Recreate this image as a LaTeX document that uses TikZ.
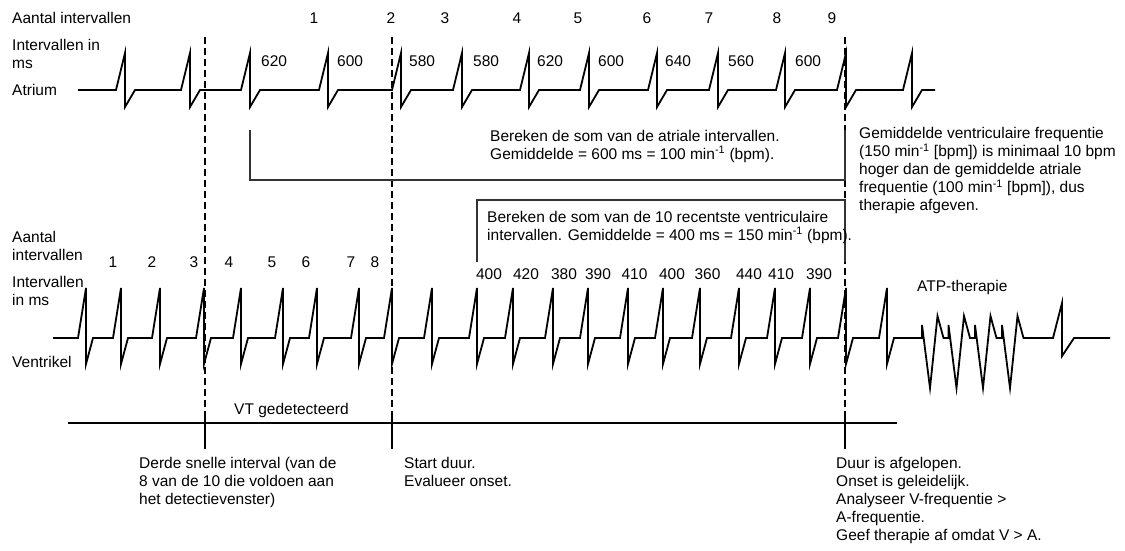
\documentclass[tikz,border=0pt]{standalone}
\usepackage{fontspec}
\setmainfont{Liberation Sans}
\newcommand{\mylines}[1]{\begin{tabular}[t]{@{}l@{}}#1\end{tabular}}
\begin{document}
\begin{tikzpicture}[x=1pt,y=-1pt,
  txt/.style={font=\fontsize{15.5}{18}\selectfont, inner sep=0pt, anchor=base west},
  num/.style={txt, anchor=base},
  wave/.style={line width=1.8pt, line join=miter},
  guide/.style={line width=1.2pt, dash pattern=on 7pt off 4pt},
  bracket/.style={line width=1.5pt, black!80},
  tickline/.style={line width=1.3pt}]
\fill[white] (0,0) rectangle (1125,550);
\useasboundingbox (0,0) rectangle (1125,550);

% ---------- left labels ----------
\node[txt] (lblA1) at (12,23.5) {Aantal intervallen};
\node[txt] (lblA2) at (12,50.5) {\mylines{Intervallen in\\ms}};
\node[txt] (lblA3) at (12,95.5) {Atrium};
\node[txt] (lblV1) at (12,242) {\mylines{Aantal\\intervallen}};
\node[txt] (lblV2) at (12,287) {\mylines{Intervallen\\in ms}};
\node[txt] (lblV3) at (12,367) {Ventrikel};

% ---------- atrial count numbers ----------
\foreach \x [count=\i] in {314,391,445,517,578,647,709,777,832}
  \node[num] (acnt\i) at (\x,23.5) {\i};

% ---------- atrial interval labels ----------
\foreach \x/\v [count=\i] in {261/620,337/600,409/580,473/580,537/620,598/600,665/640,728/560,795/600}
  \node[txt] (aint\i) at (\x,66.5) {\v};

% ---------- atrium strip ----------
\draw[wave] (78,90)
  \foreach \s in {125,190,250,328,401,462,529,589,657,718,785,846,912}
    { -- ({\s-9},90) -- (\s,53) -- (\s,107) -- ({\s+10},90) }
  -- (935,90);

% ---------- ventricular count numbers ----------
\foreach \x [count=\i] in {113,152,194,229,272,306,351,375}
  \node[num] (vcnt\i) at (\x,267) {\i};

% ---------- ventricular interval labels ----------
\foreach \x/\v [count=\i] in {489/400,526/420,564/380,598/390,634.5/410,672/400,707.5/360,749/440,781/410,819/390}
  \node[num] (vint\i) at (\x,279) {\v};

% ---------- ventricle strip ----------
\draw[wave] (53,338)
  \foreach \s in {86,121,160,204,241,283,317,359,392,432,477,513,553,588,628,663,700,739,775,810,846,887}
    { -- ({\s-8},338) -- (\s,288) -- (\s,364) -- ({\s+7},338) }
  -- (922,338)
  \foreach \b in {922,948.5,975,1002}
    { -- (\b,338) -- (\b,325) -- ({\b+8},388) -- ({\b+15.5},316) -- ({\b+21.5},338) }
  -- (1053,338) -- (1062,303) -- (1062,356) -- (1074,338) -- (1110,338);
\node[txt] (atp) at (917,291.5) {ATP-therapie};

% ---------- dashed guides ----------
\foreach \x [count=\i] in {205,392,845}{
  \coordinate (gt\i) at (\x,37);
  \coordinate (gb\i) at (\x,410);
  \coordinate (kt\i) at (\x,411);
  \coordinate (kb\i) at (\x,449);
  \draw[guide] (gt\i) -- (gb\i);
  \draw[tickline] (kt\i) -- (kb\i);
}

% ---------- atrial bracket ----------
\coordinate (ab1) at (250,130);
\coordinate (ab2) at (250,180);
\coordinate (ab3) at (845,180);
\coordinate (ab4) at (845,130);
\draw[bracket] (ab1) -- (ab2) -- (ab3) -- (ab4);
\node[txt] (atxt) at (490,141) {\mylines{Bereken de som van de atriale intervallen.\\Gemiddelde = 600 ms = 100 min\textsuperscript{-1} (bpm).}};

% ---------- ventricular bracket ----------
\coordinate (vb1) at (477,262);
\coordinate (vb2) at (477,200);
\coordinate (vb3) at (845,200);
\coordinate (vb4) at (845,262);
\draw[bracket] (vb1) -- (vb2) -- (vb3) -- (vb4);
\node[txt] (vtxt) at (487,222) {\mylines{Bereken de som van de 10 recentste ventriculaire\\intervallen. Gemiddelde = 400 ms = 150 min\textsuperscript{-1} (bpm).}};

% ---------- right explanation ----------
\node[txt] (rtxt) at (859,138.5) {\mylines{Gemiddelde ventriculaire frequentie\\(150 min\textsuperscript{-1} [bpm]) is minimaal 10 bpm\\hoger dan de gemiddelde atriale\\frequentie (100 min\textsuperscript{-1} [bpm]), dus\\therapie afgeven.}};

% ---------- VT line ----------
\coordinate (vtL) at (68,423);
\coordinate (vtR) at (897,423);
\draw[tickline] (vtL) -- (vtR);
\node[txt] (vtd) at (234,414.5) {VT gedetecteerd};

% ---------- bottom texts ----------
\node[txt] (b1) at (139,468.5) {\mylines{Derde snelle interval (van de\\8 van de 10 die voldoen aan\\het detectievenster)}};
\node[txt] (b2) at (404,468.5) {\mylines{Start duur.\\Evalueer onset.}};
\node[txt] (b3) at (836,468.5) {\mylines{Duur is afgelopen.\\Onset is geleidelijk.\\Analyseer V-frequentie >\\A-frequentie.\\Geef therapie af omdat V > A.}};
\end{tikzpicture}
\end{document}
